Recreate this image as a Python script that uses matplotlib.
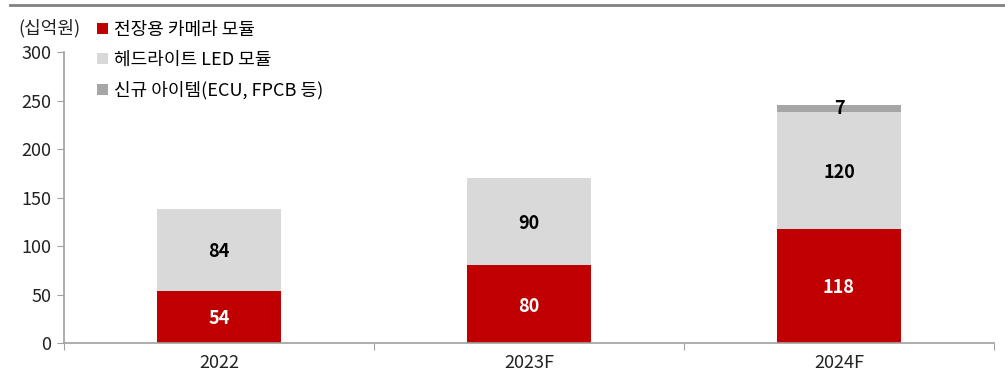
import matplotlib.pyplot as plt
from matplotlib.lines import Line2D
import numpy as np

plt.rcParams['font.family'] = ['Noto Sans CJK KR', 'DejaVu Sans']

years = ['2022', '2023F', '2024F']
camera = [54, 80, 118]
headlight = [84, 90, 120]
new_items = [0, 0, 7]
series_names = ['전장용 카메라 모듈', '헤드라이트 LED 모듈', '신규 아이템(ECU, FPCB 등)']
colors = ['#C00000', '#D9D9D9', '#A6A6A6']
axis_color = '#A0A0A0'

fig = plt.figure(figsize=(10.05, 3.78), dpi=100)
ax = fig.add_axes([0.0637, 0.0926, 0.9253, 0.7695])

x = np.arange(len(years))
w = 0.4
ax.bar(x, camera, w, color=colors[0], label=series_names[0])
ax.bar(x, headlight, w, bottom=camera, color=colors[1], label=series_names[1])
base3 = np.array(camera) + np.array(headlight)
ax.bar(x, new_items, w, bottom=base3, color=colors[2], label=series_names[2])

# value labels
for i in range(len(years)):
    ax.text(x[i], camera[i] / 2, str(camera[i]), ha='center', va='center_baseline',
            color='white', fontsize=13, fontweight='bold')
    ax.text(x[i], camera[i] + headlight[i] / 2, str(headlight[i]), ha='center',
            va='center_baseline', color='black', fontsize=13, fontweight='bold')
    if new_items[i] > 0:
        ax.text(x[i], base3[i] + new_items[i] / 2, str(new_items[i]), ha='center',
                va='center', color='black', fontsize=13, fontweight='bold')

ax.set_xlim(-0.5, 2.5)
ax.set_ylim(0, 300)
ax.set_yticks(range(0, 301, 50))
ax.set_xticks([-0.5, 0.5, 1.5, 2.5])
ax.set_xticklabels([])
ax.set_xticks(x, minor=True)
ax.set_xticklabels(years, minor=True)
ax.tick_params(axis='x', which='minor', length=0, pad=8, labelsize=13, labelcolor='#222222')
ax.tick_params(axis='x', which='major', length=5, color=axis_color, direction='out')
ax.tick_params(axis='y', length=5, color=axis_color, labelsize=13, labelcolor='#222222', pad=4)

for s in ['top', 'right']:
    ax.spines[s].set_visible(False)
for s in ['left', 'bottom']:
    ax.spines[s].set_color(axis_color)
    ax.spines[s].set_linewidth(1.2)

fig.text(0.018, 0.925, '(십억원)', fontsize=13, color='#222222', va='center')

ax.legend(loc='upper left', bbox_to_anchor=(0.028, 1.132), frameon=False,
          fontsize=13, handlelength=0.6, handleheight=0.6, handletextpad=0.3,
          labelspacing=0.67, borderaxespad=0)

# thin rule along the top edge
fig.add_artist(Line2D([0.01, 1.0], [0.987, 0.987], color='#808080', linewidth=2,
                      transform=fig.transFigure))

fig.savefig('out.png', dpi=100)
